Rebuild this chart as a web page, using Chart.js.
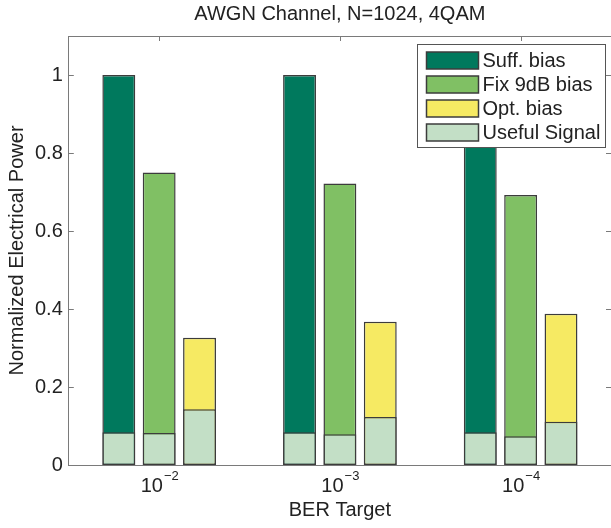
<!DOCTYPE html>
<html>
<head>
<meta charset="utf-8">
<script src="https://cdn.jsdelivr.net/npm/chart.js@4.4.1/dist/chart.umd.min.js"></script>
<style>
  html, body { margin: 0; padding: 0; background: #fff; overflow: hidden; }
  canvas { display: block; }
</style>
</head>
<body>
<canvas id="chart" width="611" height="528"></canvas>
<script>
// BER targets, shown as 10^exp under each group
const categories = ['10^-2', '10^-3', '10^-4'];

// total electrical power per bias scheme
const suffBias = [1.0, 1.0, 1.0];
const fixBias = [0.75, 0.722, 0.692];
const optBias = [0.326, 0.367, 0.388];

// useful signal part at the bottom of each bar
const usefulSuff = [0.084, 0.084, 0.084];
const usefulFix = [0.082, 0.079, 0.074];
const usefulOpt = [0.143, 0.123, 0.111];

const yTicks = [0, 0.2, 0.4, 0.6, 0.8, 1];
const legendOrder = ['Suff. bias', 'Fix 9dB bias', 'Opt. bias', 'Useful Signal'];

const FONT = "'Liberation Sans', Arial, sans-serif";
const textColor = '#222';
const axisColor = '#7a7a7a';
const edge = '#3c3c3c';
const colors = {
  suff: '#00795d',
  fix: '#80c064',
  opt: '#f6ea63',
  useful: '#c3dfc6',
};

const barSet = (label, data, color, stack, order) => ({
  label,
  data,
  backgroundColor: color,
  borderColor: edge,
  borderWidth: 1.5,
  borderSkipped: false,
  stack,
  order,
});

// top edge of the plot box plus inward ticks, matlab style
const boxTicks = {
  id: 'boxTicks',
  afterDatasetsDraw(chart) {
    const { ctx, chartArea: a, scales: { x, y } } = chart;
    const len = 5;
    ctx.save();
    ctx.strokeStyle = axisColor;
    ctx.lineWidth = 1;
    ctx.beginPath();
    ctx.moveTo(a.left, a.top + 0.5);
    ctx.lineTo(a.right, a.top + 0.5);
    yTicks.forEach((v) => {
      const py = Math.round(y.getPixelForValue(v)) + 0.5;
      ctx.moveTo(a.left, py);
      ctx.lineTo(a.left + len, py);
      ctx.moveTo(a.right, py);
      ctx.lineTo(a.right - len, py);
    });
    categories.forEach((c, i) => {
      const px = Math.round(x.getPixelForValue(i)) + 0.5;
      ctx.moveTo(px, a.top);
      ctx.lineTo(px, a.top + len);
    });
    ctx.stroke();
    ctx.restore();
  },
};

// tick labels with a raised exponent
const powerLabels = {
  id: 'powerLabels',
  afterDraw(chart) {
    const { ctx, chartArea: a, scales: { x } } = chart;
    ctx.save();
    ctx.fillStyle = textColor;
    ctx.textBaseline = 'alphabetic';
    ctx.textAlign = 'left';
    categories.forEach((c, i) => {
      const [base, exp] = c.split('^');
      const expText = exp.replace('-', '\u2212');
      ctx.font = `20px ${FONT}`;
      const wb = ctx.measureText(base).width;
      ctx.font = `13px ${FONT}`;
      const we = ctx.measureText(expText).width;
      const left = x.getPixelForValue(i) - (wb + we) / 2;
      ctx.font = `20px ${FONT}`;
      ctx.fillText(base, left, a.bottom + 27);
      ctx.font = `13px ${FONT}`;
      ctx.fillText(expText, left + wb + 1, a.bottom + 15);
    });
    ctx.restore();
  },
};

// boxed legend inside the top right corner of the plot
const boxLegend = {
  id: 'boxLegend',
  afterDraw(chart) {
    const { ctx, chartArea: a } = chart;
    const w = 188, h = 103;
    const bx = Math.round(a.right - 6 - w) + 0.5;
    const by = Math.round(a.top + 8) + 0.5;
    ctx.save();
    ctx.fillStyle = '#fff';
    ctx.strokeStyle = '#555';
    ctx.lineWidth = 1;
    ctx.fillRect(bx, by, w, h);
    ctx.strokeRect(bx, by, w, h);
    ctx.font = `20px ${FONT}`;
    ctx.textBaseline = 'middle';
    ctx.textAlign = 'left';
    legendOrder.forEach((label, i) => {
      const ds = chart.data.datasets.find((d) => d.label === label);
      const cy = by + 16 + i * 24;
      ctx.fillStyle = ds.backgroundColor;
      ctx.fillRect(bx + 9, cy - 8.5, 52, 17);
      ctx.strokeStyle = edge;
      ctx.lineWidth = 1.5;
      ctx.strokeRect(bx + 9, cy - 8.5, 52, 17);
      ctx.fillStyle = textColor;
      ctx.fillText(label, bx + 65, cy + 1);
    });
    ctx.restore();
  },
};

new Chart(document.getElementById('chart'), {
  type: 'bar',
  data: {
    labels: categories,
    datasets: [
      barSet('Useful Signal', usefulSuff, colors.useful, 'suff', 0),
      barSet('Useful Signal', usefulFix, colors.useful, 'fix', 0),
      barSet('Useful Signal', usefulOpt, colors.useful, 'opt', 0),
      barSet('Suff. bias', suffBias, colors.suff, 'suff', 1),
      barSet('Fix 9dB bias', fixBias, colors.fix, 'fix', 1),
      barSet('Opt. bias', optBias, colors.opt, 'opt', 1),
    ],
  },
  options: {
    responsive: false,
    animation: false,
    categoryPercentage: 0.67,
    barPercentage: 0.815,
    layout: { padding: { top: 2, left: 5, right: 0, bottom: 6 } },
    plugins: {
      legend: { display: false },
      tooltip: { enabled: false },
      title: {
        display: true,
        text: 'AWGN Channel, N=1024, 4QAM',
        fullSize: false,
        color: textColor,
        font: { family: FONT, size: 20, weight: 'normal' },
        padding: { top: 0, bottom: 10 },
      },
    },
    scales: {
      x: {
        grid: { display: false, drawTicks: false },
        border: { display: true, color: axisColor, width: 1 },
        ticks: { display: false },
        title: {
          display: true,
          text: 'BER Target',
          color: textColor,
          font: { family: FONT, size: 20 },
          padding: { top: 33, bottom: 0 },
        },
      },
      y: {
        stacked: false,
        min: 0,
        max: 1.1,
        afterBuildTicks: (axis) => {
          axis.ticks = yTicks.map((v) => ({ value: v }));
        },
        grid: { display: false, drawTicks: false },
        border: { display: true, color: axisColor, width: 1 },
        ticks: {
          color: textColor,
          font: { family: FONT, size: 20 },
          padding: 6,
          callback: (v) => String(+(+v).toFixed(1)),
        },
        title: {
          display: true,
          text: 'Normalized Electrical Power',
          color: textColor,
          font: { family: FONT, size: 20 },
          padding: { top: 0, bottom: 0 },
        },
      },
    },
  },
  plugins: [boxTicks, powerLabels, boxLegend],
});
</script>
</body>
</html>
